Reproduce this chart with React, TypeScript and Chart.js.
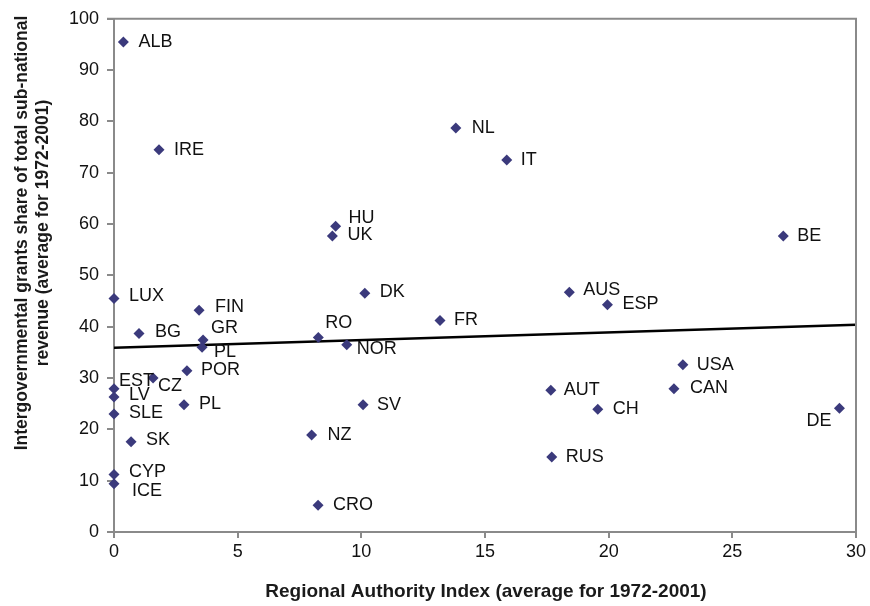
import React, { useEffect, useRef } from "react";
import { Chart, registerables } from "chart.js";

Chart.register(...registerables);

const countries = [
  "ALB", "IRE", "NL", "IT", "HU", "UK", "BE", "LUX", "FIN", "DK", "AUS", "ESP",
  "FR", "BG", "GR", "PL", "RO", "NOR", "POR", "CZ", "EST", "LV", "SLE", "PL",
  "SK", "CYP", "ICE", "NZ", "CRO", "SV", "AUT", "USA", "CAN", "CH", "DE", "RUS",
];
const raiValues = [
  0.38, 1.82, 13.82, 15.88, 8.96, 8.83, 27.06, 0, 3.44, 10.14, 18.41, 19.95,
  13.18, 1.01, 3.6, 3.56, 8.26, 9.41, 2.95, 1.58, 0, 0, 0, 2.83,
  0.69, 0, 0, 7.99, 8.25, 10.07, 17.66, 23.0, 22.64, 19.56, 29.33, 17.7,
];
const grantShares = [
  95.5, 74.5, 78.7, 72.5, 59.6, 57.7, 57.7, 45.5, 43.2, 46.5, 46.7, 44.3,
  41.2, 38.7, 37.4, 36.0, 37.9, 36.5, 31.4, 30.0, 27.9, 26.3, 23.0, 24.8,
  17.6, 11.2, 9.4, 18.9, 5.2, 24.8, 27.6, 32.6, 27.9, 23.9, 24.1, 14.6,
];
const trendX = [0, 30];
const trendY = [35.9, 40.4];
const xTicks = [0, 5, 10, 15, 20, 25, 30];
const yTicks = [0, 10, 20, 30, 40, 50, 60, 70, 80, 90, 100];

const xTitle = "Regional Authority Index (average for 1972-2001)";
const yTitleLines = [
  "Intergovernmental grants share of total sub-national",
  "revenue (average for 1972-2001)",
];

// label placement (text offset from marker, px); negative dx = right-aligned
const labelOffsets: [number, number][] = [
  [15, 0], [15, 0], [16, 0], [14, 0], [13, -8], [15, -1], [14, 0], [15, -2], [16, -3], [15, -1], [14, -2], [15, -1],
  [14, -1], [16, -1], [8, -12], [12, 5], [7, -14], [10, 4], [14, -1], [5, 8], [5, -8], [15, -2], [15, -1], [15, -1],
  [15, -2], [15, -2], [18, 7], [16, 0], [15, 0], [14, 0], [13, 0], [14, 0], [16, -1], [15, 0], [-8, 13], [14, 0],
];

const FONT = "'Liberation Sans', Arial, Helvetica, sans-serif";
const AXIS_GRAY = "#8a8a8a";

export default function App() {
  const ref = useRef<HTMLCanvasElement | null>(null);

  useEffect(() => {
    if (!ref.current) return;
    const points = raiValues.map((x, i) => ({ x, y: grantShares[i] }));
    const trend = trendX.map((x, i) => ({ x, y: trendY[i] }));

    const decorPlugin = {
      id: "decor",
      beforeDraw(chart: any) {
        const { ctx } = chart;
        ctx.save();
        ctx.fillStyle = "#ffffff";
        ctx.fillRect(0, 0, chart.width, chart.height);
        ctx.restore();
      },
      afterDraw(chart: any) {
        const { ctx, chartArea } = chart;
        const xs = chart.scales.x;
        ctx.save();
        // frame top & right
        ctx.strokeStyle = AXIS_GRAY;
        ctx.lineWidth = 2;
        ctx.beginPath();
        ctx.moveTo(chartArea.left - 7, chartArea.top);
        ctx.lineTo(chartArea.right, chartArea.top);
        ctx.lineTo(chartArea.right, chartArea.bottom);
        ctx.stroke();

        // point labels
        ctx.fillStyle = "#111111";
        ctx.font = `18px ${FONT}`;
        ctx.textBaseline = "middle";
        const meta = chart.getDatasetMeta(0);
        meta.data.forEach((el: any, i: number) => {
          const [dx, dy] = labelOffsets[i];
          ctx.textAlign = dx < 0 ? "right" : "left";
          ctx.fillText(countries[i], el.x + dx, el.y + dy);
        });

        // axis titles
        ctx.textAlign = "center";
        ctx.textBaseline = "middle";
        ctx.fillStyle = "#1a1a1a";
        ctx.font = `bold 19px ${FONT}`;
        const cx = (xs.left + xs.right) / 2;
        ctx.fillText(xTitle, cx + 1, 592);
        ctx.font = `bold 17.5px ${FONT}`;
        const cy = 233;
        ctx.save();
        ctx.translate(22, cy);
        ctx.rotate(-Math.PI / 2);
        ctx.fillText(yTitleLines[0], 0, 0);
        ctx.restore();
        ctx.save();
        ctx.translate(43, cy);
        ctx.rotate(-Math.PI / 2);
        ctx.fillText(yTitleLines[1], 0, 0);
        ctx.restore();
        ctx.restore();
      },
    };

    const chart = new Chart(ref.current, {
      type: "scatter",
      data: {
        datasets: [
          {
            label: "countries",
            data: points,
            pointStyle: "rectRot",
            pointRadius: 5.5,
            pointBackgroundColor: "#3b3a7c",
            pointBorderColor: "#3b3a7c",
            pointBorderWidth: 0,
            showLine: false,
            clip: false,
            order: 1,
          } as any,
          {
            label: "trend",
            type: "line",
            data: trend,
            borderColor: "#000000",
            borderWidth: 2.5,
            pointRadius: 0,
            fill: false,
            order: 2,
          } as any,
        ],
      },
      options: {
        responsive: false,
        animation: false,
        events: [],
        layout: { padding: { top: 16, right: 14, left: 0, bottom: 0 } },
        plugins: {
          legend: { display: false },
          tooltip: { enabled: false },
          title: { display: false },
        },
        scales: {
          x: {
            type: "linear",
            min: 0,
            max: 30,
            afterBuildTicks(scale: any) {
              scale.ticks = xTicks.map((v) => ({ value: v }));
            },
            afterFit(scale: any) {
              scale.height = 74;
            },
            ticks: {
              color: "#111111",
              font: { family: FONT, size: 18 },
              padding: 3,
            },
            grid: {
              display: true,
              drawOnChartArea: false,
              drawTicks: true,
              tickLength: 6,
              color: AXIS_GRAY,
              lineWidth: 2,
            },
            border: { display: true, color: AXIS_GRAY, width: 2 },
          },
          y: {
            type: "linear",
            min: 0,
            max: 100,
            afterBuildTicks(scale: any) {
              scale.ticks = yTicks.map((v) => ({ value: v }));
            },
            afterFit(scale: any) {
              scale.width = 114;
            },
            ticks: {
              color: "#111111",
              font: { family: FONT, size: 18 },
              padding: 8,
            },
            grid: {
              display: true,
              drawOnChartArea: false,
              drawTicks: true,
              tickLength: 7,
              color: AXIS_GRAY,
              lineWidth: 2,
            },
            border: { display: true, color: AXIS_GRAY, width: 2 },
          },
        },
      },
      plugins: [decorPlugin],
    });
    return () => chart.destroy();
  }, []);

  return (
    <div style={{ position: "absolute", left: 0, top: 0, width: 870, height: 606, background: "#fff" }}>
      <canvas ref={ref} width={870} height={606} style={{ display: "block", width: 870, height: 606 }} />
    </div>
  );
}
